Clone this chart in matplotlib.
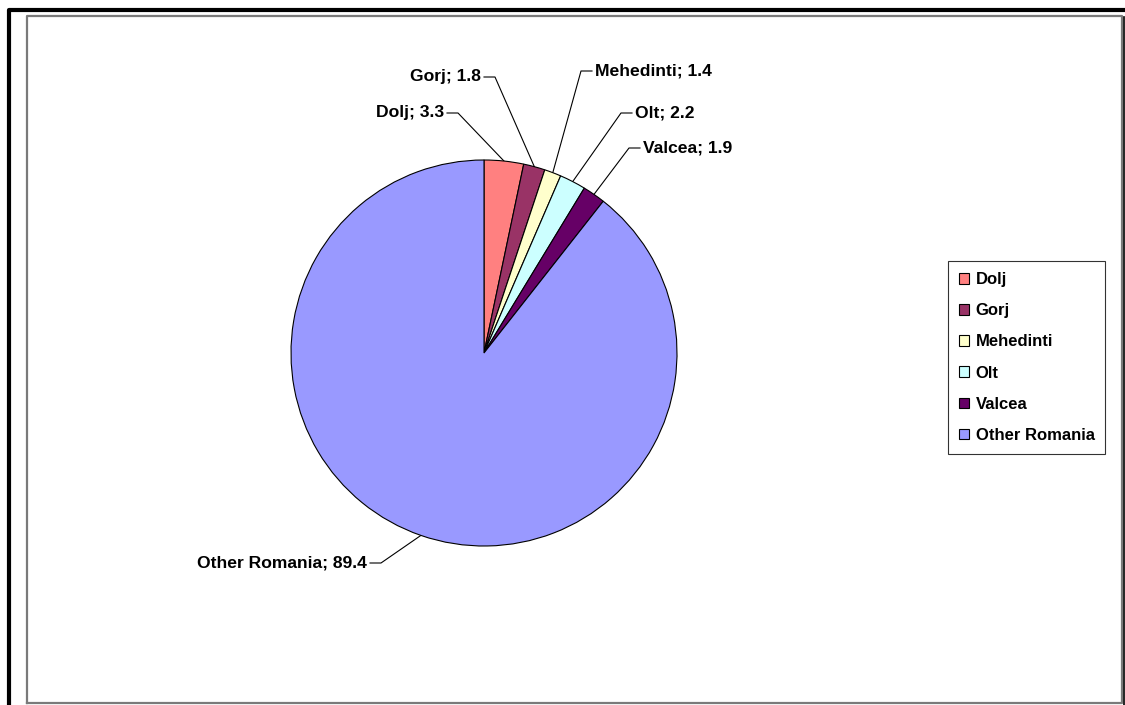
import matplotlib
matplotlib.use("Agg")
import matplotlib.pyplot as plt
import numpy as np

categories = ["Dolj", "Gorj", "Mehedinti", "Olt", "Valcea", "Other Romania"]
values = [3.3, 1.8, 1.4, 2.2, 1.9, 89.4]
colors = ["#FF8080", "#993366", "#FFFFCC", "#CCFFFF", "#660066", "#9999FF"]

plt.rcParams['font.family'] = ['Liberation Sans', 'DejaVu Sans']
plt.rcParams['font.weight'] = 'bold'

W, H = 1125, 705
fig = plt.figure(figsize=(W / 100, H / 100), dpi=100)

# overlay axes in pixel coordinates for frame & leader lines
ov = fig.add_axes([0, 0, 1, 1])
ov.set_xlim(0, W)
ov.set_ylim(H, 0)
ov.axis('off')

# outer frame (partly cropped)
ov.plot([9, 9, W + 5], [H + 5, 9.5, 9.5], color='black', lw=3, solid_capstyle='butt')
# inner frame with shadow
ov.plot([27, 27, 1122, 1122, 27], [703, 16, 16, 703, 703], color='#7a7a7a', lw=1.6)
ov.plot([1123.5, 1123.5], [17, 705], color='black', lw=1.2)

# pie
cx, cy, r = 484, 353, 193
pax = fig.add_axes([(cx - r) / W, (H - cy - r) / H, 2 * r / W, 2 * r / H])
wedges, _ = pax.pie(values, colors=colors, startangle=90, counterclock=False,
                    radius=1, wedgeprops=dict(edgecolor='black', linewidth=0.8))
pax.set_xlim(-1, 1)
pax.set_ylim(-1, 1)
pax.set_aspect('auto')
pax.axis('off')

# label placements (pixel coords of label anchor) and alignment
label_pos = {
    "Dolj": (444, 113, 'right'),
    "Gorj": (481, 77, 'right'),
    "Mehedinti": (595, 71, 'left'),
    "Olt": (635, 113, 'left'),
    "Valcea": (643, 148, 'left'),
    "Other Romania": (367, 563, 'right'),
}

total = sum(values)
cum = 0
for cat, v in zip(categories, values):
    mid = 90 - (cum + v / 2) / total * 360
    cum += v
    px = cx + r * np.cos(np.radians(mid))
    py = cy - r * np.sin(np.radians(mid))
    lx, ly, ha = label_pos[cat]
    ov.text(lx, ly, f"{cat}; {v}", ha=ha, va='center', fontsize=12.6,
            fontweight='bold', color='black')
    if ha == 'right':
        x0, x1 = lx + 3, lx + 14
    else:
        x0, x1 = lx - 3, lx - 14
    ov.plot([x0, x1, px], [ly, ly, py], color='black', lw=0.8)

leg = fig.legend(wedges, categories, loc='center left',
                 bbox_to_anchor=(948 / W, 1 - 357.5 / H),
                 frameon=True, fancybox=False, edgecolor='black',
                 prop={'weight': 'bold', 'size': 12},
                 handlelength=0.6, handleheight=0.6, handletextpad=0.4,
                 labelspacing=0.97, borderpad=0.65, borderaxespad=0)
leg.get_frame().set_linewidth(0.8)

fig.savefig("out.png", dpi=100)
